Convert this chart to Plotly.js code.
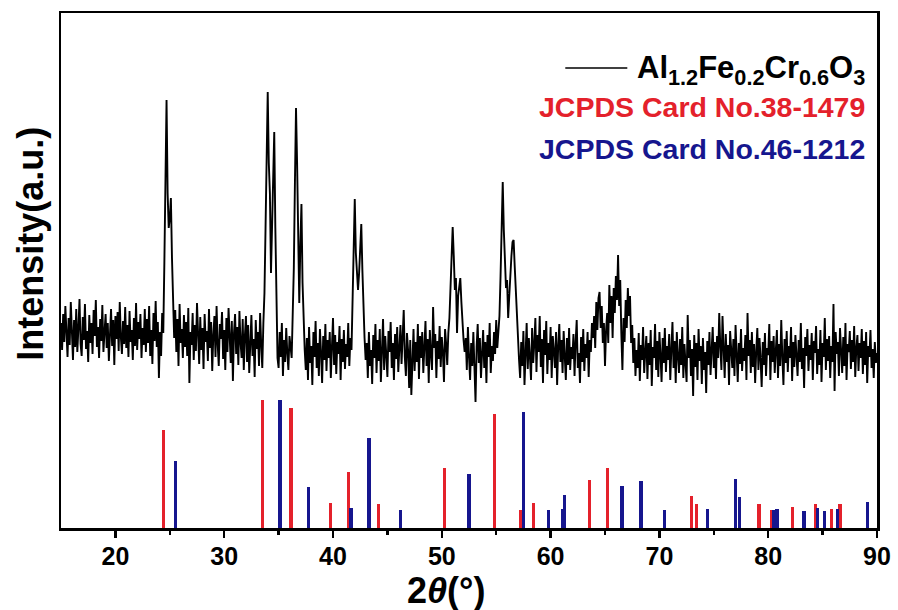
<!DOCTYPE html>
<html>
<head>
<meta charset="utf-8">
<script src="https://cdn.plot.ly/plotly-3.0.1.min.js"></script>
<style>html,body{margin:0;padding:0;background:#fff}#chart{width:898px;height:610px}</style>
</head>
<body>
<div id="chart"></div>
<script>
// XRD scan grid (degrees 2theta)
const scanStart = 15.0;
const scanStep = 0.1;
// Measured intensity (a.u.), one value per 0.1 deg from 15.0 to 90.0
const intensity = [
205,178,214,186,222,190,171,210,183,226,
195,168,208,181,219,176,200,229,184,172,
211,188,224,179,197,166,213,185,205,174,
218,192,228,181,201,170,209,187,223,176,
196,214,180,205,167,199,219,182,208,163,
212,189,216,177,226,191,174,207,184,221,
180,203,171,217,186,198,168,210,182,225,
178,206,189,214,170,200,183,219,176,209,
185,222,172,198,164,215,187,227,181,206,
150,196,172,215,
195,265,350,428,335,300,310,330,270,215,190,
218,176,209,162,224,185,199,170,213,181,
206,172,220,145,196,183,215,168,203,177,
225,190,164,211,178,200,159,214,186,197,
167,219,180,206,157,193,212,171,222,184,
162,204,189,216,169,198,158,210,176,220,
183,165,207,147,195,214,174,201,163,217,
186,170,209,158,192,212,166,203,155,198,
213,172,189,151,208,179,196,162,215,184,
160,205,
235,300,385,436,365,335,255,295,350,396,300,215,170,
160,196,171,205,152,188,166,200,175,158,192,183,170,
215,260,345,420,365,265,225,285,324,245,200,178,
158,190,148,201,165,182,143,196,171,207,
160,185,152,199,176,145,192,168,204,157,
188,170,196,150,181,210,163,193,154,186,
174,202,148,189,166,198,159,184,171,205,
162,190,178,
220,270,329,275,250,238,255,282,304,258,212,190,168,
185,150,196,162,178,144,193,170,204,155,
188,167,199,146,183,209,158,192,173,151,
197,176,206,160,185,148,194,169,201,156,
180,203,164,190,218,171,152,195,178,140,
188,133,175,199,157,186,166,204,149,192,
170,196,155,183,207,162,189,145,198,174,
158,221,180,194,150,187,169,202,161,191,
176,146,199,184,163,195,
210,240,270,301,272,238,250,195,232,245,250,226,200,188,176,
190,158,201,172,148,185,162,196,153,
126,181,204,165,190,150,177,198,160,186,
145,193,171,205,155,182,167,196,174,208,
180,195,
212,252,300,346,298,258,240,248,210,232,258,272,286,288,262,236,208,192,
168,150,186,162,197,143,178,205,159,190,
171,148,200,165,184,210,156,193,176,212,
161,189,145,198,173,207,154,185,168,201,
150,192,177,160,196,143,183,204,166,188,
155,197,172,148,190,163,200,158,181,169,
194,152,186,208,160,175,145,191,166,199,
157,184,170,196,151,188,176,205,
190,212,180,226,198,230,236,200,222,185,
205,162,198,215,185,243,205,232,190,240,
215,252,228,273,222,248,195,158,210,186,
228,200,240,212,232,185,203,165,
190,152,178,160,195,147,183,168,201,155,
176,192,149,185,163,198,142,181,170,204,
158,187,151,196,173,146,190,165,200,156,
182,168,194,148,179,206,160,187,145,196,
172,155,189,163,201,150,184,166,146,213,
170,188,152,179,132,193,161,185,148,199,
167,182,144,190,158,176,135,187,163,196,
153,178,201,160,186,149,192,170,215,181,
158,212,174,150,194,166,183,143,197,175,
160,189,152,203,171,146,185,164,199,157,
180,167,193,148,215,172,188,155,196,161,
184,145,177,200,158,190,169,141,186,163,
195,152,180,173,204,148,187,166,192,155,
178,198,150,184,162,208,171,143,189,165,
197,156,182,170,201,147,186,161,193,176,
152,188,166,205,159,180,140,191,172,199,
157,183,168,195,148,187,175,202,154,179,
163,198,146,185,171,210,158,189,167,192,
150,182,166,224,137,196,174,186,152,200,
170,155,191,162,205,148,184,176,197,159,
188,166,202,151,180,193,157,185,170,199,
154,187,163,196,145,182,171,198,160,179,
150,186,165,175
];

// JCPDS Card No.38-1479 reference lines
const card38Pos = [24.4, 33.55, 36.15, 39.75, 41.45, 44.2, 50.25, 54.85, 57.2, 58.45, 63.55, 65.2, 72.95, 73.4, 79.15, 80.3, 82.2, 84.35, 85.8, 86.6];
const card38Int = [98, 128, 120, 25, 56, 24, 60, 114, 18, 25, 48, 60, 32, 24, 24, 18, 21, 24, 19, 24];
// JCPDS Card No.46-1212 reference lines
const card46Pos = [25.5, 35.12, 37.76, 41.66, 43.32, 46.18, 52.5, 57.5, 59.8, 61.1, 61.3, 66.57, 68.32, 70.5, 74.4, 76.98, 77.35, 80.5, 80.8, 83.3, 84.5, 85.2, 86.4, 89.15];
const card46Int = [67, 128, 41, 20, 90, 18, 54, 116, 18, 19, 33, 42, 47, 18, 19, 49, 31, 18, 19, 17, 20, 17, 19, 26];

const xTicks = [20, 30, 40, 50, 60, 70, 80, 90];

const scanX = intensity.map((_, i) => +(scanStart + i * scanStep).toFixed(2));

const FONT = 'Liberation Sans, Arial, sans-serif';
const RED = '#E4212B';
const BLUE = '#16168E';

const traces = [
  {type: 'bar', x: card38Pos, y: card38Int, width: 0.3, marker: {color: RED, line: {width: 0}}, name: 'JCPDS Card No.38-1479', showlegend: false, hoverinfo: 'x+y'},
  {type: 'bar', x: card46Pos, y: card46Int, width: 0.3, marker: {color: BLUE, line: {width: 0}}, name: 'JCPDS Card No.46-1212', showlegend: false, hoverinfo: 'x+y'},
  {type: 'scatter', mode: 'lines', x: scanX, y: intensity, line: {color: '#000', width: 1.9}, name: 'Al1.2Fe0.2Cr0.6O3', showlegend: false}
];

const layout = {
  width: 898, height: 610,
  margin: {l: 61, r: 21, t: 13, b: 82},
  paper_bgcolor: '#fff', plot_bgcolor: '#fff',
  barmode: 'overlay', bargap: 0,
  showlegend: false,
  font: {family: FONT, color: '#000'},
  xaxis: {
    range: [15, 90], tickvals: xTicks, ticktext: xTicks.map(String),
    showline: true, linecolor: '#000', linewidth: 2.5, mirror: true,
    ticks: 'outside', ticklen: 7, tickwidth: 2.5, tickcolor: '#000',
    ticklabelstandoff: -3,
    minor: {tickvals: [25, 35, 45, 55, 65, 75, 85], ticks: 'outside', ticklen: 4, tickwidth: 2.5, tickcolor: '#000'},
    showgrid: false, zeroline: false,
    tickfont: {family: FONT, size: 25, weight: 'bold', color: '#000'}
  },
  yaxis: {
    range: [0, 515],
    showline: true, linecolor: '#000', linewidth: 2.5, mirror: true,
    ticks: '', showticklabels: false, showgrid: false, zeroline: false
  },
  shapes: [
    {type: 'line', xref: 'paper', yref: 'paper', x0: 0.618, x1: 0.694, y0: 0.893, y1: 0.893, line: {color: '#000', width: 1.5}}
  ],
  annotations: [
    {xref: 'paper', yref: 'paper', x: 0.472, y: -0.1223, xanchor: 'center', yanchor: 'middle', showarrow: false,
     text: '2<i>θ</i>(°)', font: {family: FONT, size: 36, weight: 'bold', color: '#000'}},
    {xref: 'paper', yref: 'paper', x: -0.037, y: 0.5515, xanchor: 'center', yanchor: 'middle', textangle: -90, showarrow: false,
     text: 'Intensity(a.u.)', font: {family: FONT, size: 36, weight: 'bold', color: '#000'}},
    {xref: 'paper', yref: 'paper', x: 0.988, y: 0.889, xanchor: 'right', yanchor: 'middle', showarrow: false,
     text: 'Al<sub>1.2</sub>Fe<sub>0.2</sub>Cr<sub>0.6</sub>O<sub>3</sub>', font: {family: FONT, size: 31, weight: 'bold', color: '#000'}},
    {xref: 'paper', yref: 'paper', x: 0.988, y: 0.8175, xanchor: 'right', yanchor: 'middle', showarrow: false,
     text: 'JCPDS Card No.38-1479', font: {family: FONT, size: 28.5, weight: 'bold', color: RED}},
    {xref: 'paper', yref: 'paper', x: 0.988, y: 0.736, xanchor: 'right', yanchor: 'middle', showarrow: false,
     text: 'JCPDS Card No.46-1212', font: {family: FONT, size: 28.5, weight: 'bold', color: BLUE}}
  ]
};

Plotly.newPlot('chart', traces, layout, {staticPlot: true, displayModeBar: false});
</script>
</body>
</html>
